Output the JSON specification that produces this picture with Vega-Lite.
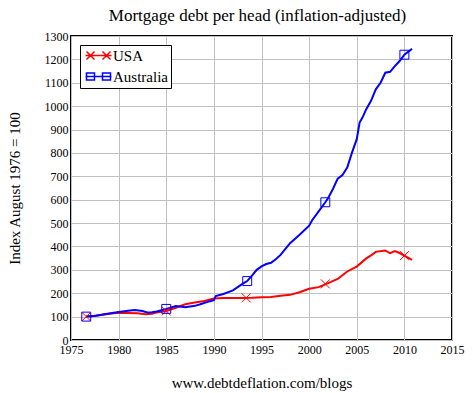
{
  "$schema": "https://vega.github.io/schema/vega-lite/v6.json",
  "width": 381,
  "height": 304,
  "autosize": "none",
  "padding": {"left": 71, "top": 36, "right": 21, "bottom": 53},
  "background": "white",
  "title": {
    "text": "Mortgage debt per head (inflation-adjusted)",
    "font": "Liberation Serif",
    "fontSize": 17,
    "fontWeight": "normal",
    "color": "black",
    "offset": 5,
    "dx": -4
  },
  "config": {
    "view": {"stroke": "black", "strokeWidth": 2},
    "axis": {
      "labelFont": "Liberation Serif",
      "labelFontSize": 12,
      "labelColor": "black",
      "titleFont": "Liberation Serif",
      "titleFontSize": 15,
      "titleFontWeight": "normal",
      "titleColor": "black",
      "gridColor": "#c0c0c0",
      "gridOpacity": 1,
      "gridWidth": 1,
      "domain": false,
      "ticks": false,
      "labelFlush": false
    },
    "legend": {
      "labelFont": "Liberation Serif",
      "labelFontSize": 15,
      "labelColor": "black",
      "strokeColor": "black",
      "fillColor": "white",
      "padding": 3,
      "orient": "top-left",
      "offset": 9,
      "symbolSize": 64,
      "symbolStrokeWidth": 1.5,
      "symbolOpacity": 1,
      "symbolOffset": 8,
      "labelOffset": 7,
      "rowPadding": 5
    }
  },
  "datasets": {
    "series": [
      {"Country": "USA", "Year": 1976.6, "Index": 100},
      {"Country": "USA", "Year": 1977.5, "Index": 104},
      {"Country": "USA", "Year": 1978.5, "Index": 109},
      {"Country": "USA", "Year": 1979.5, "Index": 114},
      {"Country": "USA", "Year": 1980, "Index": 116},
      {"Country": "USA", "Year": 1981, "Index": 115},
      {"Country": "USA", "Year": 1982, "Index": 114},
      {"Country": "USA", "Year": 1982.8, "Index": 110},
      {"Country": "USA", "Year": 1983.5, "Index": 112},
      {"Country": "USA", "Year": 1984, "Index": 118},
      {"Country": "USA", "Year": 1985, "Index": 124},
      {"Country": "USA", "Year": 1986, "Index": 138},
      {"Country": "USA", "Year": 1987, "Index": 153},
      {"Country": "USA", "Year": 1988, "Index": 160},
      {"Country": "USA", "Year": 1989, "Index": 167},
      {"Country": "USA", "Year": 1990, "Index": 177},
      {"Country": "USA", "Year": 1991, "Index": 180},
      {"Country": "USA", "Year": 1992, "Index": 180},
      {"Country": "USA", "Year": 1993, "Index": 180},
      {"Country": "USA", "Year": 1994, "Index": 181},
      {"Country": "USA", "Year": 1995, "Index": 183},
      {"Country": "USA", "Year": 1996, "Index": 184},
      {"Country": "USA", "Year": 1997, "Index": 189},
      {"Country": "USA", "Year": 1998, "Index": 193},
      {"Country": "USA", "Year": 1999, "Index": 204},
      {"Country": "USA", "Year": 2000, "Index": 219},
      {"Country": "USA", "Year": 2001, "Index": 226},
      {"Country": "USA", "Year": 2002, "Index": 243},
      {"Country": "USA", "Year": 2003, "Index": 261},
      {"Country": "USA", "Year": 2004, "Index": 293},
      {"Country": "USA", "Year": 2005, "Index": 314},
      {"Country": "USA", "Year": 2006, "Index": 349},
      {"Country": "USA", "Year": 2006.5, "Index": 362},
      {"Country": "USA", "Year": 2007, "Index": 377},
      {"Country": "USA", "Year": 2008, "Index": 383},
      {"Country": "USA", "Year": 2008.5, "Index": 371},
      {"Country": "USA", "Year": 2009, "Index": 380},
      {"Country": "USA", "Year": 2009.5, "Index": 372},
      {"Country": "USA", "Year": 2010, "Index": 361},
      {"Country": "USA", "Year": 2010.8, "Index": 343},
      {"Country": "Australia", "Year": 1976.6, "Index": 100},
      {"Country": "Australia", "Year": 1977.5, "Index": 103},
      {"Country": "Australia", "Year": 1978.5, "Index": 110},
      {"Country": "Australia", "Year": 1979.5, "Index": 117},
      {"Country": "Australia", "Year": 1980, "Index": 120},
      {"Country": "Australia", "Year": 1981, "Index": 125},
      {"Country": "Australia", "Year": 1981.7, "Index": 128},
      {"Country": "Australia", "Year": 1982.5, "Index": 124},
      {"Country": "Australia", "Year": 1983, "Index": 118},
      {"Country": "Australia", "Year": 1983.5, "Index": 119},
      {"Country": "Australia", "Year": 1984, "Index": 122},
      {"Country": "Australia", "Year": 1985, "Index": 133},
      {"Country": "Australia", "Year": 1986, "Index": 145},
      {"Country": "Australia", "Year": 1987, "Index": 140},
      {"Country": "Australia", "Year": 1988, "Index": 146},
      {"Country": "Australia", "Year": 1988.5, "Index": 152},
      {"Country": "Australia", "Year": 1989.5, "Index": 165},
      {"Country": "Australia", "Year": 1990, "Index": 170},
      {"Country": "Australia", "Year": 1990.2, "Index": 188},
      {"Country": "Australia", "Year": 1991, "Index": 197},
      {"Country": "Australia", "Year": 1992, "Index": 212},
      {"Country": "Australia", "Year": 1993, "Index": 240},
      {"Country": "Australia", "Year": 1993.5, "Index": 252},
      {"Country": "Australia", "Year": 1994, "Index": 275},
      {"Country": "Australia", "Year": 1994.5, "Index": 300},
      {"Country": "Australia", "Year": 1995, "Index": 315},
      {"Country": "Australia", "Year": 1995.5, "Index": 325},
      {"Country": "Australia", "Year": 1996, "Index": 330},
      {"Country": "Australia", "Year": 1996.5, "Index": 345},
      {"Country": "Australia", "Year": 1997, "Index": 364},
      {"Country": "Australia", "Year": 1998, "Index": 414},
      {"Country": "Australia", "Year": 1999, "Index": 450},
      {"Country": "Australia", "Year": 2000, "Index": 489},
      {"Country": "Australia", "Year": 2000.3, "Index": 511},
      {"Country": "Australia", "Year": 2001, "Index": 550},
      {"Country": "Australia", "Year": 2001.7, "Index": 589},
      {"Country": "Australia", "Year": 2002, "Index": 607},
      {"Country": "Australia", "Year": 2002.5, "Index": 646},
      {"Country": "Australia", "Year": 2003, "Index": 690},
      {"Country": "Australia", "Year": 2003.5, "Index": 705},
      {"Country": "Australia", "Year": 2004, "Index": 737},
      {"Country": "Australia", "Year": 2004.5, "Index": 801},
      {"Country": "Australia", "Year": 2005, "Index": 859},
      {"Country": "Australia", "Year": 2005.3, "Index": 930},
      {"Country": "Australia", "Year": 2005.6, "Index": 951},
      {"Country": "Australia", "Year": 2006, "Index": 987},
      {"Country": "Australia", "Year": 2006.5, "Index": 1023},
      {"Country": "Australia", "Year": 2007, "Index": 1072},
      {"Country": "Australia", "Year": 2007.5, "Index": 1100},
      {"Country": "Australia", "Year": 2008, "Index": 1143},
      {"Country": "Australia", "Year": 2008.5, "Index": 1147},
      {"Country": "Australia", "Year": 2009, "Index": 1171},
      {"Country": "Australia", "Year": 2009.5, "Index": 1193},
      {"Country": "Australia", "Year": 2010, "Index": 1220},
      {"Country": "Australia", "Year": 2010.8, "Index": 1245}
    ],
    "markers": [
      {"Country": "USA", "Year": 1976.6, "Index": 100},
      {"Country": "USA", "Year": 1985, "Index": 124},
      {"Country": "USA", "Year": 1993.4, "Index": 180},
      {"Country": "USA", "Year": 2001.7, "Index": 240},
      {"Country": "USA", "Year": 2010, "Index": 361},
      {"Country": "Australia", "Year": 1976.6, "Index": 100},
      {"Country": "Australia", "Year": 1985, "Index": 133},
      {"Country": "Australia", "Year": 1993.5, "Index": 252},
      {"Country": "Australia", "Year": 2001.7, "Index": 589},
      {"Country": "Australia", "Year": 2010, "Index": 1220}
    ]
  },
  "encoding": {
    "x": {
      "field": "Year",
      "type": "quantitative",
      "scale": {"domain": [1975, 2015], "nice": false, "zero": false},
      "axis": {
        "values": [1975, 1980, 1985, 1990, 1995, 2000, 2005, 2010, 2015],
        "format": "d",
        "labelFont": "Liberation Serif",
        "labelFontSize": 12,
        "labelFlush": false,
        "labelPadding": 4,
        "title": "www.debtdeflation.com/blogs",
        "titlePadding": 20
      }
    },
    "y": {
      "field": "Index",
      "type": "quantitative",
      "scale": {"domain": [0, 1300], "nice": false},
      "axis": {
        "values": [0, 100, 200, 300, 400, 500, 600, 700, 800, 900, 1000, 1100, 1200, 1300],
        "format": "d",
        "labelFont": "Liberation Serif",
        "labelFontSize": 12,
        "labelFlush": false,
        "labelPadding": 3,
        "title": "Index August 1976 = 100",
        "titlePadding": 22
      }
    }
  },
  "layer": [
    {
      "data": {"name": "series"},
      "mark": {"type": "line", "strokeWidth": 2},
      "encoding": {
        "color": {
          "field": "Country",
          "type": "nominal",
          "scale": {"domain": ["USA", "Australia"], "range": ["#ff0000", "#0000ff"]},
          "legend": {"title": null}
        },
        "detail": {"field": "Country"}
      }
    },
    {
      "data": {"name": "markers"},
      "transform": [{"filter": "datum.Country === 'USA'"}],
      "mark": {"type": "point", "shape": "M-1,-1L1,1M-1,1L1,-1", "size": 80, "color": "#ff0000", "strokeWidth": 1, "filled": false, "opacity": 1}
    },
    {
      "data": {"name": "markers"},
      "transform": [{"filter": "datum.Country === 'Australia'"}],
      "mark": {"type": "point", "shape": "square", "size": 80, "color": "#0000ff", "strokeWidth": 1, "filled": false, "opacity": 1}
    },
    {
      "data": {"name": "markers"},
      "transform": [{"filter": "datum.Year < 0"}],
      "mark": {"type": "point", "filled": false, "strokeWidth": 1.5, "opacity": 1},
      "encoding": {
        "color": {"field": "Country", "type": "nominal", "legend": {"title": null}},
        "shape": {
          "field": "Country",
          "type": "nominal",
          "scale": {
            "domain": ["USA", "Australia"],
            "range": [
              "M-3.25,0L3.25,0M-3,-1L-1,1M-3,1L-1,-1M1,-1L3,1M1,1L3,-1",
              "M-3.25,0L3.25,0M-3,-0.9L-1,-0.9L-1,0.9L-3,0.9ZM1,-0.9L3,-0.9L3,0.9L1,0.9Z"
            ]
          },
          "legend": {"title": null}
        }
      }
    }
  ]
}
